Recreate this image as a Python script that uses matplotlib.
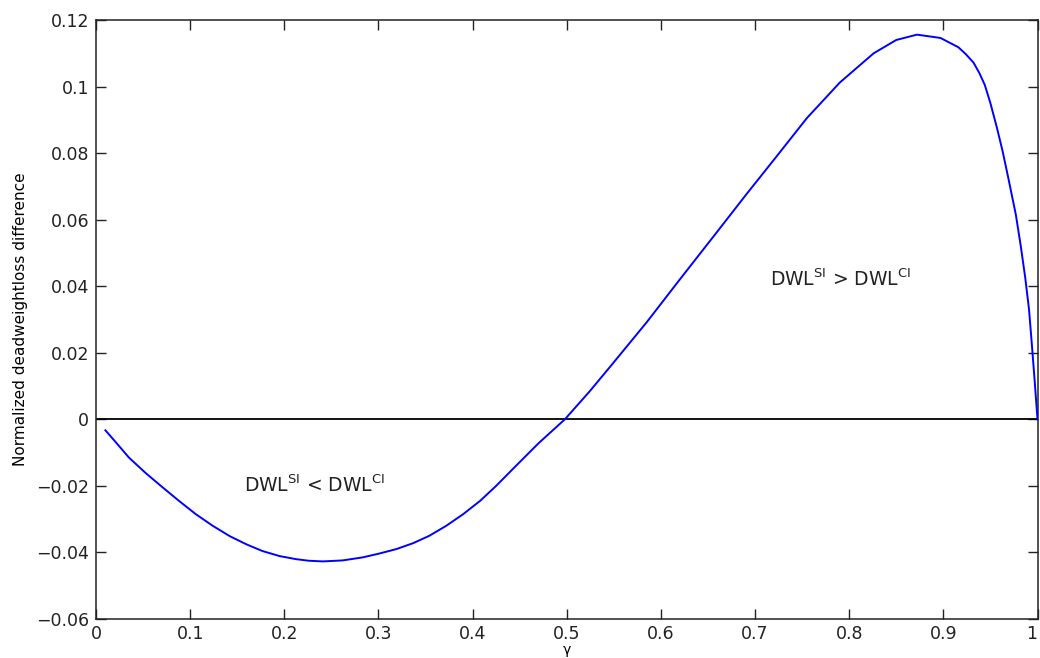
import numpy as np
import matplotlib
matplotlib.use("Agg")
import matplotlib.pyplot as plt

plt.rcParams['font.family'] = ['DejaVu Sans']
plt.rcParams['mathtext.default'] = 'regular'

# values
gamma = [0.010, 0.022, 0.035, 0.053, 0.071, 0.089, 0.106, 0.124, 0.142,
         0.160, 0.177, 0.195, 0.212, 0.226, 0.241, 0.262, 0.283, 0.300,
         0.319, 0.337, 0.354, 0.372, 0.390, 0.408, 0.425, 0.446, 0.470,
         0.498, 0.524, 0.549, 0.585, 0.620, 0.656, 0.691, 0.722, 0.755,
         0.790, 0.826, 0.850, 0.872, 0.897, 0.916, 0.924, 0.932, 0.938,
         0.944, 0.950, 0.957, 0.963, 0.969, 0.977, 0.982, 0.987, 0.991,
         0.994, 0.997, 1.000]
dwl_diff = [-0.0033, -0.0072, -0.0115, -0.0162, -0.0205, -0.0247, -0.0285,
            -0.0320, -0.0351, -0.0376, -0.0396, -0.0411, -0.0420, -0.0425,
            -0.0427, -0.0424, -0.0415, -0.0404, -0.0390, -0.0372, -0.0350,
            -0.0320, -0.0285, -0.0245, -0.0200, -0.0140, -0.0072, 0.0000,
            0.0083, 0.0168, 0.0292, 0.0420, 0.0550, 0.0677, 0.0787, 0.0905,
            0.1012, 0.1100, 0.1140, 0.1156, 0.1146, 0.1118, 0.1097, 0.1072,
            0.1042, 0.1005, 0.0950, 0.0875, 0.0805, 0.0725, 0.0615, 0.0525,
            0.0425, 0.0330, 0.0225, 0.0115, 0.0000]

xticks = np.arange(0, 1.01, 0.1)
xlabels = ['0', '0.1', '0.2', '0.3', '0.4', '0.5', '0.6', '0.7', '0.8', '0.9', '1']
yticks = np.arange(-0.06, 0.121, 0.02)
ylabels = ['\u22120.06', '\u22120.04', '\u22120.02', '0', '0.02', '0.04',
           '0.06', '0.08', '0.1', '0.12']

fig = plt.figure(figsize=(10.4, 6.58), dpi=100)
ax = fig.add_axes([0.0923, 0.0593, 0.9053, 0.9103])

ax.axhline(0, color='black', lw=1.3, zorder=2)
ax.plot(gamma, dwl_diff, color=(0, 0, 1), lw=1.4, zorder=3)

ax.text(0.157, -0.0219, r'DWL$^{SI}$ < DWL$^{CI}$', fontsize=13.5, color='#222222')
ax.text(0.716, 0.0402, r'DWL$^{SI}$ > DWL$^{CI}$', fontsize=13.5, color='#222222')

ax.set_xlim(0, 1)
ax.set_ylim(-0.06, 0.12)
ax.set_xticks(xticks)
ax.set_xticklabels(xlabels)
ax.set_yticks(yticks)
ax.set_yticklabels(ylabels)
ax.tick_params(direction='in', length=7.5, width=1, top=True, right=True,
               labelsize=12.5, colors='#222222', pad=5)
ax.tick_params(axis='x', pad=4)
# last label sits at the figure edge; keep it inside
ax.get_xticklabels()[-1].set_horizontalalignment('right')
for s in ax.spines.values():
    s.set_linewidth(1.1)
    s.set_color('#222222')

ax.set_xlabel('\u03b3', fontsize=10, labelpad=0)
ax.set_ylabel('Normalized deadweightloss difference', fontsize=11, labelpad=6)

fig.savefig('out.png', dpi=100)
